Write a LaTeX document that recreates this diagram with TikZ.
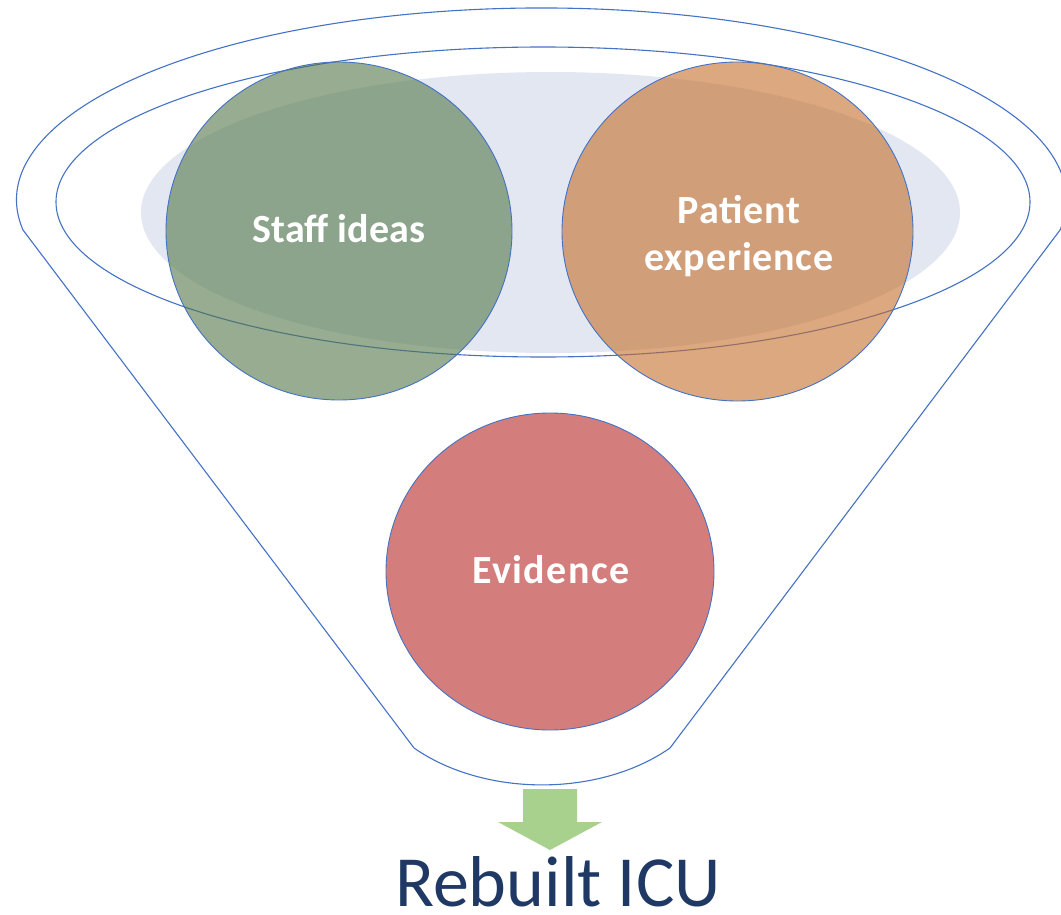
\documentclass[tikz,border=0pt]{standalone}
\usepackage{fontspec}
\usetikzlibrary{shapes.geometric}
\setmainfont{Carlito}
\definecolor{outline}{RGB}{68,114,196}
\definecolor{haze}{RGB}{227,231,242}
\definecolor{staffgreen}{RGB}{82,118,72}
\definecolor{patientorange}{RGB}{197,110,43}
\definecolor{evidencered}{RGB}{211,125,125}
\definecolor{arrowgreen}{RGB}{169,209,142}
\definecolor{navy}{RGB}{31,56,100}
\tikzset{
  funnelline/.style={draw=outline, line width=1.1pt},
  bubble/.style={ellipse, draw=outline, line width=0.9pt, inner sep=0pt},
  bubbletext/.style={anchor=base, text=white, align=center,
    font=\fontsize{40}{47}\selectfont\bfseries},
}
\begin{document}
\begin{tikzpicture}[x=1pt, y=-1pt]
\useasboundingbox (0,0) rectangle (1061,915);
\fill[white] (0,0) rectangle (1061,915);

% soft backdrop inside the funnel mouth
\fill[haze] (550.5,212.5) ellipse [x radius=409.5, y radius=140.5];

% funnel: outer rim, sides and spout
\draw[funnelline] (23,230)
  arc[start angle=171, end angle=369, x radius=525, y radius=192]
  -- (670,748)
  arc[start angle=45, end angle=135, x radius=181, y radius=126]
  -- cycle;
% inner rim
\draw[funnelline] (543,202) ellipse [x radius=487, y radius=155];

% inputs
\node[bubble, minimum width=346pt, minimum height=338pt,
      fill=staffgreen, fill opacity=0.6] (staff) at (339,231) {};
\node[bubble, minimum width=351pt, minimum height=339pt,
      fill=patientorange, fill opacity=0.6] (patient) at (737.5,231.5) {};
\node[bubble, minimum width=328pt, minimum height=317pt,
      fill=evidencered] (evidence) at (550,571.5) {};

\node[bubbletext] (stafftext) at (339,243) {Staff ideas};
\node[bubbletext, font=\fontsize{40}{47}\selectfont\bfseries\addfontfeatures{LetterSpace=2}]
  (patienttext) at (739,270) {Patient\\experience};
\node[bubbletext, font=\fontsize{40}{47}\selectfont\bfseries\addfontfeatures{LetterSpace=3.5}]
  (evidencetext) at (551,583) {Evidence};

% output arrow and result
\fill[arrowgreen] (523,789) -- (577,789) -- (577,822) -- (602,822)
  -- (550,850) -- (498,822) -- (523,822) -- cycle;
\node[anchor=base, inner sep=0pt, text=navy, font=\fontsize{72}{80}\selectfont]
  (result) at (558,906) {Rebuilt ICU};
\end{tikzpicture}
\end{document}
